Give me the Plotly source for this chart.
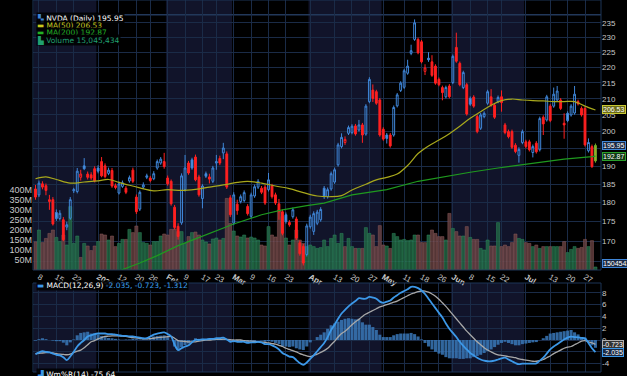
import math
import pandas as pd
import plotly.graph_objects as go

# ---------------- DATA ----------------
holidays = ["2025-12-25", "2026-01-01", "2026-01-19", "2026-02-16",
            "2026-04-03", "2026-05-25", "2026-06-19", "2026-07-03"]
days = [d for d in pd.bdate_range("2025-12-05", "2026-07-30")
        if d.strftime("%Y-%m-%d") not in holidays]

opens = [183.7, 182.1, 185.1, 184.6, 180.3, 180.8, 177.4, 175.8, 175.5, 173.6,
         175.9, 183.2, 183.0, 186.9, 190.1, 187.8, 187.6, 189.3, 189.5, 191.3,
         190.1, 188.0, 188.8, 184.6, 182.6, 184.4, 183.9, 185.9, 188.9, 181.5,
         178.3, 184.2, 186.9, 186.7, 186.5, 189.5, 190.9, 191.3, 186.7, 185.8,
         178.8, 173.8, 174.7, 183.5, 190.9, 191.8, 192.6, 187.0, 181.1, 187.9,
         187.0, 185.8, 190.9, 192.2, 193.8, 193.5, 181.3, 174.6, 179.6, 180.3,
         180.6, 179.0, 176.4, 181.8, 184.2, 183.9, 184.2, 183.5, 184.5, 182.1,
         179.7, 177.6, 176.8, 174.8, 176.3, 175.7, 169.6, 168.7, 166.7, 173.7,
         172.5, 174.6, 175.5, 183.9, 181.6, 183.7, 185.6, 190.4, 195.6, 196.8,
         199.5, 199.7, 201.7, 200.5, 202.0, 199.3, 209.1, 212.7, 212.2, 209.6,
         200.7, 199.0, 199.0, 199.0, 207.8, 212.6, 213.6, 218.1, 224.6, 229.3,
         229.3, 228.5, 218.7, 223.0, 221.8, 220.4, 216.1, 213.5, 210.6, 214.0,
         215.1, 226.6, 221.3, 213.5, 214.4, 210.1, 210.5, 204.5, 201.0, 204.5,
         208.6, 210.6, 208.0, 209.1, 210.6, 202.0, 200.0, 200.0, 196.0, 193.1,
         196.8, 197.0, 197.0, 193.9, 196.6, 194.7, 204.3, 203.5, 207.7, 207.7,
         209.6, 209.6, 202.5, 205.5, 205.0, 205.6, 209.1, 207.0, 207.0, 194.4,
         195.6, 191.5]
highs = [184.8, 186.0, 185.8, 185.2, 182.1, 181.5, 178.2, 178.0, 176.2, 175.0,
         181.5, 184.0, 189.5, 189.0, 192.3, 188.5, 188.3, 190.0, 190.3, 192.6,
         190.8, 189.6, 189.5, 185.2, 185.7, 186.0, 184.5, 187.4, 189.6, 182.2,
         183.3, 185.5, 187.9, 187.3, 188.6, 191.9, 192.6, 193.8, 187.4, 186.3,
         179.4, 174.6, 188.0, 193.2, 191.5, 192.4, 193.3, 187.6, 185.0, 188.5,
         187.9, 190.1, 193.2, 193.0, 196.7, 194.2, 182.0, 182.8, 180.8, 182.2,
         183.3, 179.6, 182.7, 184.9, 186.4, 184.5, 184.8, 188.1, 185.1, 182.7,
         181.0, 178.2, 177.4, 175.4, 178.7, 176.3, 170.2, 169.3, 174.5, 176.8,
         177.7, 178.1, 178.8, 184.5, 184.1, 188.5, 189.6, 196.7, 199.5, 198.6,
         201.8, 202.2, 202.3, 203.5, 202.6, 208.3, 216.8, 214.5, 212.8, 210.2,
         201.3, 199.6, 199.6, 207.9, 211.8, 215.5, 219.5, 222.5, 227.5, 236.2,
         229.9, 229.1, 221.0, 225.0, 224.0, 221.0, 216.7, 214.1, 214.1, 214.6,
         224.2, 231.6, 221.9, 218.9, 215.0, 210.7, 211.1, 205.1, 205.6, 206.1,
         212.8, 213.0, 208.6, 211.0, 212.6, 202.6, 200.6, 200.6, 196.6, 195.4,
         200.6, 197.6, 197.6, 196.2, 197.2, 204.5, 204.9, 211.2, 208.3, 213.5,
         214.0, 210.2, 205.5, 206.1, 208.3, 214.0, 209.7, 207.6, 207.6, 198.0,
         196.2, 196.5]
lows = [180.8, 181.5, 183.6, 182.0, 178.1, 174.0, 175.2, 175.3, 170.0, 172.8,
        175.5, 182.6, 182.5, 186.0, 188.9, 186.3, 186.2, 185.5, 188.0, 186.9,
        186.6, 187.5, 184.0, 183.6, 182.2, 184.0, 182.3, 185.4, 185.3, 177.0,
        177.8, 183.7, 186.4, 185.5, 186.1, 189.0, 190.4, 189.3, 184.6, 179.2,
        173.0, 170.4, 174.2, 183.0, 187.6, 189.0, 185.8, 181.6, 178.5, 186.7,
        185.2, 185.3, 189.0, 190.3, 192.0, 183.7, 176.2, 174.1, 176.8, 179.8,
        180.1, 176.6, 175.9, 181.3, 183.7, 182.3, 179.4, 183.0, 181.1, 179.4,
        175.5, 171.5, 174.5, 173.7, 175.8, 170.3, 166.4, 164.0, 166.2, 173.2,
        171.6, 174.1, 175.0, 181.0, 181.1, 183.2, 185.1, 189.9, 195.1, 196.1,
        199.0, 199.2, 198.8, 200.0, 196.7, 198.8, 208.6, 209.0, 208.1, 198.5,
        197.3, 196.5, 195.3, 198.5, 207.3, 212.1, 213.1, 217.6, 224.0, 228.8,
        224.3, 221.3, 217.5, 221.8, 216.9, 214.4, 213.9, 209.5, 210.1, 210.1,
        214.6, 221.5, 213.9, 213.0, 204.8, 207.8, 207.2, 199.5, 200.5, 204.0,
        208.1, 207.5, 203.8, 208.6, 206.0, 199.2, 198.0, 194.9, 193.7, 191.0,
        196.3, 195.1, 194.2, 192.5, 193.6, 194.2, 199.0, 203.0, 202.8, 207.2,
        209.1, 206.5, 197.9, 202.8, 204.5, 205.1, 207.9, 204.5, 195.6, 193.9,
        189.5, 191.0]
closes = [181.5, 185.3, 184.2, 183.3, 180.8, 174.4, 175.8, 177.2, 170.4, 174.2,
          180.8, 183.5, 188.6, 187.8, 189.3, 186.9, 186.7, 185.9, 188.6, 187.3,
          187.1, 188.9, 184.5, 184.1, 185.1, 185.4, 182.8, 186.8, 185.8, 177.6,
          182.8, 184.8, 187.3, 186.0, 187.9, 191.3, 192.0, 189.9, 185.1, 179.7,
          173.5, 171.2, 187.3, 189.5, 188.1, 189.5, 186.2, 182.1, 184.5, 187.2,
          186.4, 189.5, 191.3, 190.9, 195.2, 184.2, 176.8, 182.1, 177.9, 181.6,
          182.7, 177.1, 182.1, 184.3, 185.8, 182.8, 179.9, 186.2, 181.6, 179.9,
          177.6, 172.0, 175.0, 174.2, 178.1, 170.8, 166.9, 164.6, 173.9, 176.2,
          177.1, 177.5, 178.2, 181.6, 183.5, 187.9, 189.0, 196.1, 198.3, 197.7,
          201.2, 201.6, 199.3, 202.0, 199.0, 207.7, 216.1, 210.1, 208.6, 199.0,
          197.8, 198.0, 195.8, 207.3, 211.2, 214.9, 218.9, 220.4, 225.5, 235.0,
          224.8, 221.8, 219.8, 222.5, 217.4, 214.9, 214.4, 211.9, 213.5, 210.6,
          223.6, 222.0, 214.4, 218.3, 205.3, 208.3, 207.7, 200.0, 205.0, 205.5,
          212.2, 208.0, 204.3, 210.4, 208.8, 199.7, 198.5, 195.4, 194.2, 194.8,
          200.0, 195.6, 194.7, 195.6, 194.1, 203.9, 202.3, 210.6, 203.3, 211.4,
          212.4, 207.0, 202.0, 203.3, 207.7, 211.4, 208.4, 205.0, 196.1, 196.8,
          189.9, 195.95]
volume_m = [141, 200, 137, 158, 183, 200, 163, 142, 175, 125,
            317, 133, 170, 63, 133, 120, 97, 120, 142, 180,
            175, 150, 170, 117, 133, 153, 153, 203, 187, 220,
            187, 137, 133, 125, 142, 142, 170, 180, 175, 203,
            205, 192, 192, 133, 167, 187, 190, 175, 150, 140,
            130, 155, 160, 150, 158, 358, 233, 195, 170, 165,
            175, 160, 165, 160, 150, 125, 120, 217, 175, 165,
            300, 267, 160, 125, 150, 200, 150, 133, 117, 125,
            117, 108, 112, 150, 117, 158, 175, 133, 183, 117,
            158, 117, 108, 108, 108, 212, 183, 175, 117, 222,
            125, 120, 108, 183, 167, 150, 153, 147, 150, 175,
            175, 137, 137, 175, 200, 183, 167, 167, 150, 283,
            208, 192, 170, 170, 217, 163, 153, 153, 108, 100,
            150, 120, 120, 237, 117, 125, 117, 137, 180, 158,
            153, 137, 133, 117, 125, 108, 117, 117, 117, 117,
            117, 117, 142, 87, 103, 117, 108, 113, 153, 117,
            147, 15.05]

ma50_idx = [0, 3, 6, 10, 14, 18, 21, 24, 27, 30, 34, 38, 42, 46, 50, 54, 58, 61,
            65, 69, 73, 77, 81, 85, 88, 91, 95, 98, 101, 104, 107, 110, 113, 116,
            119, 122, 125, 128, 131, 134, 137, 140, 143, 146, 149, 152, 155, 158, 161]
ma50_val = [186.5, 187.0, 186.3, 185.3, 185.6, 185.9, 186.3, 185.5, 184.7, 184.0,
            183.2, 183.5, 183.3, 183.6, 184.2, 184.8, 185.5, 185.8, 185.3, 184.5,
            183.8, 182.7, 181.8, 181.6, 181.9, 183.4, 185.0, 186.2, 186.9, 187.8,
            190.2, 193.6, 195.8, 197.5, 199.4, 201.6, 204.0, 206.0, 208.0, 209.4,
            209.9, 209.6, 209.4, 209.3, 209.1, 209.1, 209.1, 207.7, 206.53]
ma200_idx = [20, 25, 30, 35, 41, 46, 50, 57, 65, 71, 78, 83, 91, 101, 110, 120,
             125, 133, 143, 152, 160, 161]
ma200_val = [161.4, 162.9, 164.6, 166.4, 168.9, 170.6, 172.0, 174.4, 176.8, 178.1,
             179.2, 179.9, 182.1, 183.5, 185.8, 187.6, 188.3, 189.5, 190.9, 192.0,
             192.7, 192.87]

macd = [-2.4, -2.1, -1.9, -2.0, -2.1, -2.3, -2.5, -2.6, -2.9, -3.4,
        -2.8, -2.0, -1.1, -0.5, 0.0, 0.6, 0.8, 1.0, 1.1, 1.1,
        1.1, 1.0, 1.0, 0.9, 0.8, 0.7, 0.7, 0.6, 0.6, 0.5,
        0.4, 0.3, 0.3, 0.6, 0.9, 1.1, 1.2, 1.3, 1.0, 0.6,
        -0.8, -1.7, -1.4, -1.1, -0.9, -0.4, 0.0, 0.0, 0.1, 0.1,
        0.2, 0.2, 0.3, 0.3, 0.4, 0.1, -0.3, -0.2, -0.3, -0.3,
        -0.3, -0.5, -0.4, -0.4, -0.3, -0.4, -0.7, -0.7, -0.9, -1.2,
        -1.6, -2.2, -2.5, -2.8, -2.9, -3.4, -3.9, -4.2, -3.8, -3.2,
        -2.6, -1.9, -1.2, -0.5, 0.5, 1.7, 2.6, 3.6, 4.5, 5.1,
        5.7, 6.2, 6.6, 7.1, 7.0, 7.0, 7.3, 7.2, 7.0, 6.5,
        6.3, 6.5, 6.7, 7.2, 7.6, 8.0, 8.3, 8.6, 9.0, 9.0,
        8.8, 8.4, 7.8, 7.0, 6.2, 5.4, 4.6, 3.8, 2.8, 1.9,
        1.2, 0.5, -0.3, -1.0, -1.6, -2.2, -2.6, -3.0, -3.3, -3.5,
        -3.6, -3.6, -3.5, -3.3, -3.1, -3.0, -3.3, -3.6, -3.9, -4.1,
        -4.0, -4.0, -4.0, -4.0, -3.95, -3.5, -3.0, -2.3, -1.6, -1.1,
        -0.7, -0.3, 0.1, 0.4, 0.56, 0.5, 0.45, 0.35, 0.28, -0.5,
        -1.4, -2.035]
signal = [-2.3, -2.25, -2.2, -2.15, -2.1, -2.2, -2.3, -2.4, -2.45, -2.5,
          -2.4, -2.1, -1.9, -1.7, -1.3, -0.8, -0.3, -0.1, 0.2, 0.4,
          0.6, 0.65, 0.7, 0.7, 0.7, 0.65, 0.6, 0.5, 0.4, 0.35,
          0.3, 0.2, 0.2, 0.25, 0.3, 0.4, 0.45, 0.5, 0.55, 0.6,
          0.3, -0.1, -0.2, -0.25, -0.3, -0.3, -0.3, -0.2, -0.1, 0.0,
          0.0, 0.05, 0.1, 0.1, 0.15, 0.1, 0.05, 0.0, 0.0, 0.0,
          -0.1, -0.15, -0.2, -0.25, -0.3, -0.35, -0.4, -0.5, -0.6, -0.7,
          -0.9, -1.1, -1.4, -1.6, -1.8, -2.0, -2.3, -2.5, -2.7, -2.8,
          -2.6, -2.4, -2.1, -1.8, -1.4, -0.8, -0.2, 0.5, 1.1, 1.5,
          2.0, 2.6, 3.1, 3.5, 4.0, 4.4, 4.7, 5.0, 5.3, 5.6,
          5.8, 6.0, 6.2, 6.4, 6.6, 6.9, 7.2, 7.5, 7.8, 8.0,
          8.2, 8.3, 8.3, 8.1, 7.8, 7.4, 6.9, 6.3, 5.7, 5.0,
          4.3, 3.6, 2.9, 2.2, 1.5, 0.9, 0.3, -0.3, -0.8, -1.3,
          -1.7, -2.0, -2.3, -2.5, -2.6, -2.7, -2.8, -2.9, -3.0, -3.2,
          -3.3, -3.4, -3.5, -3.6, -3.6, -3.5, -3.3, -3.0, -2.7, -2.3,
          -2.0, -1.7, -1.4, -1.2, -1.1, -0.8, -0.5, -0.17, -0.1, -0.3,
          -0.5, -0.723]
hist = [-0.1, 0.15, 0.3, 0.15, 0.0, -0.1, -0.2, -0.2, -0.45, -0.9,
        -0.4, 0.1, 0.8, 1.2, 1.3, 1.4, 1.1, 1.1, 0.9, 0.7,
        0.5, 0.35, 0.3, 0.2, 0.1, 0.05, 0.1, 0.1, 0.2, 0.15,
        0.1, 0.1, 0.1, 0.35, 0.6, 0.7, 0.75, 0.8, 0.45, 0.0,
        -1.1, -1.6, -1.2, -0.85, -0.6, -0.1, 0.3, 0.2, 0.2, 0.1,
        0.2, 0.15, 0.2, 0.2, 0.25, 0.0, -0.35, -0.2, -0.3, -0.3,
        -0.2, -0.35, -0.2, -0.15, 0.0, -0.05, -0.3, -0.2, -0.3, -0.5,
        -0.7, -1.1, -1.1, -1.2, -1.1, -1.4, -1.6, -1.7, -1.1, -0.4,
        0.0, 0.5, 0.9, 1.3, 1.9, 2.5, 2.8, 3.1, 3.4, 3.6,
        3.7, 3.6, 3.5, 3.6, 3.0, 2.6, 2.6, 2.2, 1.7, 0.9,
        0.5, 0.5, 0.5, 0.8, 1.0, 1.1, 1.1, 1.1, 1.2, 1.0,
        0.6, 0.1, -0.5, -1.1, -1.6, -2.0, -2.3, -2.5, -2.9, -3.1,
        -3.1, -3.1, -3.2, -3.2, -3.1, -3.1, -2.9, -2.7, -2.5, -2.2,
        -1.9, -1.6, -1.2, -0.8, -0.5, -0.3, -0.5, -0.7, -0.9, -0.9,
        -0.7, -0.6, -0.5, -0.4, -0.35, 0.0, 0.3, 0.7, 1.1, 1.2,
        1.3, 1.4, 1.5, 1.6, 1.7, 1.3, 0.95, 0.5, 0.4, -0.2,
        -0.9, -1.312]

price_ticks = [165, 170, 175, 180, 185, 190, 195, 200, 205, 210, 215, 220, 225, 230, 235]
price_ticktext = ["165", "170", "175", "180", "185", "190", "", "200", "205", "210",
                  "215", "220", "225", "230", "235"]
vol_ticks_m = [50, 100, 150, 200, 250, 300, 350, 400]
macd_ticks = [-4, -2, 0, 2, 4, 6, 8]
macd_ticktext = ["-4", "", "0", "2", "4", "6", "8"]
tick_dates = ["2025-12-08", "2025-12-15", "2025-12-22", "2026-01-02", "2026-01-12",
              "2026-01-20", "2026-01-26", "2026-02-02", "2026-02-09", "2026-02-17",
              "2026-02-23", "2026-03-02", "2026-03-09", "2026-03-16", "2026-03-23",
              "2026-04-01", "2026-04-13", "2026-04-20", "2026-04-27", "2026-05-01",
              "2026-05-11", "2026-05-18", "2026-05-26", "2026-06-01", "2026-06-08",
              "2026-06-15", "2026-06-22", "2026-07-01", "2026-07-13", "2026-07-20",
              "2026-07-27"]
tick_text = ["8", "15", "22", "<b>2026</b>", "12", "20", "26", "<b>Feb</b>", "9", "17",
             "23", "<b>Mar</b>", "9", "16", "23", "<b>Apr</b>", "13", "20", "27",
             "<b>May</b>", "11", "18", "26", "<b>Jun</b>", "8", "15", "22", "<b>Jul</b>",
             "13", "20", "27"]
shaded_months = ["2025-12", "2026-02", "2026-04", "2026-06"]

# ---------------- FIGURE ----------------
W, H = 627, 376
X0, X1 = 33, 601
MAIN_T, MAIN_B = 0, 270
MACD_T, MACD_B = 283, 372

BLUE = "#3f86d8"
BLUE_FILL = "#5a9ee8"
RED = "#ff2020"
GRID = "#1a2b47"
NAVY = "#11142a"
TXT = "#c8c8c8"
FONT = "Liberation Sans"

n = len(closes)
xs = list(range(n))
keys = [d.strftime("%Y-%m-%d") for d in days]
tickvals = [keys.index(d) for d in tick_dates]

up = [(closes[i] >= closes[i - 1]) if i > 0 else (closes[0] >= opens[0]) for i in range(n)]

fig = go.Figure()

# volume (main y axis = volume, left side)
vcols = ["rgba(35,105,70,0.8)" if u else "rgba(105,66,66,0.8)" for u in up]
vline = ["#2f8a5c" if u else "#8a5a5a" for u in up]
fig.add_trace(go.Bar(x=xs, y=[v * 1e6 for v in volume_m],
                     marker=dict(color=vcols, line=dict(color=vline, width=0.5)),
                     xaxis="x", yaxis="y", hoverinfo="skip", showlegend=False))

# moving averages (price axis y2)
fig.add_trace(go.Scatter(x=ma200_idx, y=ma200_val, mode="lines", line=dict(color="#1f9a1f", width=1.2),
                         xaxis="x", yaxis="y2", showlegend=False))
fig.add_trace(go.Scatter(x=ma50_idx, y=ma50_val, mode="lines",
                         line=dict(color="#a8a81c", width=1.2, shape="spline"),
                         xaxis="x", yaxis="y2", showlegend=False))


def candle_group(idx, color, fill):
    return go.Candlestick(
        x=[xs[i] for i in idx], open=[opens[i] for i in idx], high=[highs[i] for i in idx],
        low=[lows[i] for i in idx], close=[closes[i] for i in idx],
        increasing=dict(line=dict(color=color, width=1), fillcolor="rgba(0,0,0,0)"),
        decreasing=dict(line=dict(color=color, width=1), fillcolor=fill),
        whiskerwidth=0, xaxis="x", yaxis="y2", showlegend=False, hoverinfo="skip")


up_idx = [i for i in range(n - 1) if up[i]]
dn_idx = [i for i in range(n - 1) if not up[i]]
fig.add_trace(candle_group(up_idx, BLUE, BLUE_FILL))
fig.add_trace(candle_group(dn_idx, RED, RED))
# latest (highlighted) candle
fig.add_trace(go.Candlestick(
    x=[xs[-1]], open=[opens[-1]], high=[highs[-1]], low=[lows[-1]], close=[closes[-1]],
    increasing=dict(line=dict(color="#6fae2a", width=1), fillcolor="#a6a62a"),
    decreasing=dict(line=dict(color="#6fae2a", width=1), fillcolor="#a6a62a"),
    whiskerwidth=0, xaxis="x", yaxis="y2", showlegend=False, hoverinfo="skip"))

# MACD panel
fig.add_trace(go.Bar(x=xs, y=hist, marker=dict(color="rgba(58,120,185,0.85)", line=dict(width=0)),
                     xaxis="x2", yaxis="y3", showlegend=False, hoverinfo="skip"))
fig.add_trace(go.Scatter(x=xs, y=signal, mode="lines", line=dict(color="#a8a8a8", width=1.3, shape="spline"),
                         xaxis="x2", yaxis="y3", showlegend=False))
fig.add_trace(go.Scatter(x=xs, y=macd, mode="lines", line=dict(color="#3c98e8", width=1.8, shape="spline"),
                         xaxis="x2", yaxis="y3", showlegend=False))

dom_x = [X0 / W, X1 / W]
main_dom = [1 - MAIN_B / H, 1 - MAIN_T / H]
macd_dom = [1 - MACD_B / H, 1 - MACD_T / H]
xr = [-0.72, 162.6]

# month shading
shapes = []
for m in shaded_months:
    ids = [i for i, k in enumerate(keys) if k.startswith(m)]
    a, b = max(ids[0] - 0.5, xr[0]), min(ids[-1] + 0.5, xr[1])
    for xref, yref in (("x", "y domain"), ("x2", "y3 domain")):
        shapes.append(dict(type="rect", xref=xref, yref=yref, x0=a, x1=b, y0=0, y1=1,
                           fillcolor=NAVY, line=dict(width=0), layer="below"))
# panel borders
for yref in ("y domain", "y3 domain"):
    shapes.append(dict(type="rect", xref="paper", yref=yref, x0=dom_x[0], x1=dom_x[1], y0=0, y1=1,
                       line=dict(color="#1d3556", width=1), fillcolor="rgba(0,0,0,0)", layer="above"))
# header separator line near the top of the price panel
shapes.append(dict(type="line", xref="paper", yref="paper", x0=dom_x[0], x1=dom_x[1],
                   y0=1 - 14.8 / H, y1=1 - 14.8 / H, line=dict(color="#22385a", width=1.6), layer="below"))

fig.update_layout(
    width=W, height=H, margin=dict(l=0, r=0, t=0, b=0),
    paper_bgcolor="#000000", plot_bgcolor="#000000",
    font=dict(family=FONT, color=TXT, size=8),
    bargap=0.12, boxgap=0.25, showlegend=False,
    shapes=shapes,
    xaxis=dict(domain=dom_x, range=xr, anchor="y", tickmode="array", tickvals=tickvals, ticktext=tick_text,
               showgrid=True, gridcolor=GRID, gridwidth=1, zeroline=False, showline=False, ticks="",
               tickfont=dict(size=8, color=TXT), rangeslider=dict(visible=False), fixedrange=True),
    yaxis=dict(domain=main_dom, range=[0, 1.35e9], side="left", tickmode="array",
               tickvals=[v * 1e6 for v in vol_ticks_m], ticktext=[f"{v}M" for v in vol_ticks_m],
               showgrid=False, zeroline=False, showline=False, ticks="", tickfont=dict(size=9, color=TXT)),
    yaxis2=dict(overlaying="y", side="right", type="log",
                range=[math.log10(162.9), math.log10(243.1)], tickmode="array",
                tickvals=price_ticks, ticktext=price_ticktext,
                showgrid=True, gridcolor=GRID, zeroline=False, showline=False, ticks="",
                tickfont=dict(size=8, color=TXT)),
    xaxis2=dict(domain=dom_x, range=xr, anchor="y3", matches="x", tickmode="array", tickvals=tickvals,
                showticklabels=False, showgrid=True, gridcolor=GRID, zeroline=False, ticks=""),
    yaxis3=dict(domain=macd_dom, range=[-5.42, 9.66], side="right", tickmode="array",
                tickvals=macd_ticks, ticktext=macd_ticktext,
                showgrid=True, gridcolor=GRID, zeroline=False, showline=False, ticks="",
                tickfont=dict(size=8, color=TXT)),
)

ann = []
LX = 36 / W


def legend_line(y_px, html):
    ann.append(dict(xref="paper", yref="paper", x=LX, y=1 - y_px / H, xanchor="left", yanchor="middle",
                    text=html, showarrow=False, bgcolor="rgba(0,0,0,0.85)", borderpad=0,
                    font=dict(family="DejaVu Sans", size=7.5, color="#ffffff")))


legend_line(18, f'<span style="color:{BLUE}">▚</span> NVDA (Daily) 195.95')
legend_line(25.7, '<span style="color:#c8c81e">▬ MA(50) 206.53</span>')
legend_line(33, '<span style="color:#22b022">▬ MA(200) 192.87</span>')
legend_line(40.3, '<span style="color:#20a070">▙ Volume 15,045,434</span>')
legend_line(285, '<span style="color:#3c98e8">▬</span> MACD(12,26,9) '
                 '<span style="color:#3ca0f0">-2.035, -0.723, -1.312</span>')
legend_line(373.5, '<span style="color:#3c98e8">▟</span> Wm%R(14) -75.64')


def value_box(y, text, bg, border, yref="paper"):
    ann.append(dict(xref="paper", yref=yref, x=601.5 / W, y=y,
                    xanchor="left", yanchor="middle", text=text, showarrow=False,
                    bgcolor=bg, bordercolor=border, borderwidth=1, borderpad=0,
                    font=dict(family=FONT, size=7, color="#ffffff")))


value_box(math.log10(206.53), "206.53", "#6b6b18", "#c8c832", yref="y2")
value_box(math.log10(195.95), "195.95", "#1b2a44", "#3f86d8", yref="y2")
value_box(math.log10(192.87), "192.87", "#123a14", "#2aa02a", yref="y2")
value_box(1 - 263.5 / H, "15045434", "#1b2a44", "#3f86d8")
value_box(-0.723, "-0.723", "#333333", "#b0b0b0", yref="y3")
value_box(-2.035, "-2.035", "#1b2a44", "#3c98e8", yref="y3")

fig.update_layout(annotations=ann)
fig.write_html("out.html")
